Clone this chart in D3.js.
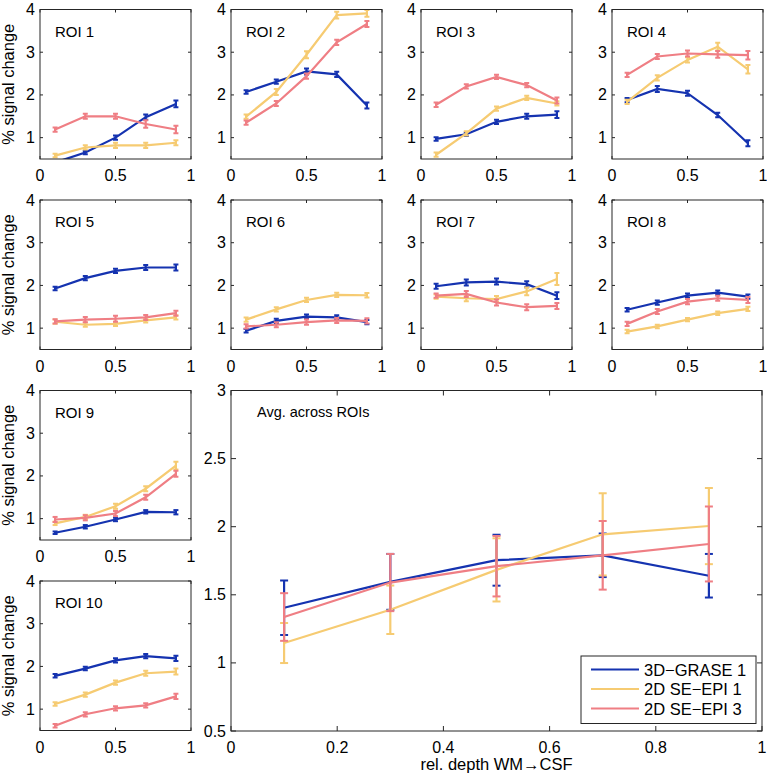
<!DOCTYPE html>
<html>
<head>
<meta charset="utf-8">
<script src="https://cdn.jsdelivr.net/npm/d3@7/dist/d3.min.js"></script>
<style>
  body { margin: 0; background: #fff; }
  svg text { font-family: "Liberation Sans", Arial, sans-serif; fill: #000; }
  .axisline { stroke: #262626; stroke-width: 1; fill: none; }
</style>
</head>
<body>
<svg id="chart" width="767" height="774"></svg>
<script>
// ---- data ----
const depths = [0.1, 0.3, 0.5, 0.7, 0.9];
const roiNames = ["ROI 1", "ROI 2", "ROI 3", "ROI 4", "ROI 5", "ROI 6", "ROI 7", "ROI 8", "ROI 9", "ROI 10"];
const seriesNames = ["3D\u2212GRASE 1", "2D SE\u2212EPI 1", "2D SE\u2212EPI 3"];

// per ROI means
const graseMeans = [
  [0.42, 0.65, 1.00, 1.48, 1.79],
  [2.07, 2.31, 2.55, 2.48, 1.75],
  [0.97, 1.08, 1.37, 1.50, 1.54],
  [1.88, 2.14, 2.04, 1.53, 0.87],
  [1.93, 2.17, 2.34, 2.42, 2.42],
  [0.94, 1.17, 1.27, 1.25, 1.14],
  [1.98, 2.07, 2.09, 2.03, 1.76],
  [1.43, 1.60, 1.76, 1.83, 1.74],
  [0.67, 0.81, 0.98, 1.16, 1.15],
  [1.78, 1.95, 2.14, 2.24, 2.19]
];
const epi1Means = [
  [0.58, 0.77, 0.82, 0.82, 0.88],
  [1.49, 2.07, 2.94, 3.87, 3.91],
  [0.60, 1.10, 1.68, 1.93, 1.80],
  [1.84, 2.40, 2.82, 3.13, 2.60],
  [1.15, 1.08, 1.10, 1.18, 1.25],
  [1.20, 1.44, 1.66, 1.78, 1.77],
  [1.74, 1.70, 1.68, 1.86, 2.15],
  [0.92, 1.04, 1.20, 1.35, 1.45],
  [0.89, 1.04, 1.29, 1.70, 2.24],
  [1.12, 1.34, 1.62, 1.84, 1.88]
];
const epi3Means = [
  [1.19, 1.50, 1.50, 1.32, 1.19],
  [1.35, 1.80, 2.44, 3.23, 3.66],
  [1.77, 2.20, 2.42, 2.23, 1.87],
  [2.47, 2.90, 2.97, 2.95, 2.93],
  [1.16, 1.20, 1.22, 1.25, 1.35],
  [1.04, 1.08, 1.14, 1.18, 1.17],
  [1.76, 1.80, 1.60, 1.49, 1.52],
  [1.10, 1.39, 1.62, 1.70, 1.66],
  [0.98, 1.02, 1.12, 1.50, 2.05],
  [0.61, 0.88, 1.02, 1.09, 1.30]
];

// per ROI errors (half length)
const graseErr = [
  [0.03, 0.04, 0.05, 0.06, 0.08],
  [0.04, 0.05, 0.07, 0.06, 0.07],
  [0.04, 0.04, 0.05, 0.06, 0.08],
  [0.05, 0.07, 0.06, 0.05, 0.07],
  [0.04, 0.05, 0.05, 0.06, 0.07],
  [0.04, 0.05, 0.05, 0.05, 0.05],
  [0.06, 0.07, 0.07, 0.07, 0.08],
  [0.04, 0.05, 0.05, 0.05, 0.05],
  [0.03, 0.04, 0.04, 0.04, 0.05],
  [0.04, 0.04, 0.05, 0.05, 0.06]
];
const epi1Err = [
  [0.04, 0.05, 0.06, 0.06, 0.06],
  [0.05, 0.07, 0.08, 0.08, 0.08],
  [0.05, 0.05, 0.05, 0.05, 0.05],
  [0.05, 0.06, 0.06, 0.09, 0.10],
  [0.05, 0.05, 0.05, 0.05, 0.05],
  [0.05, 0.05, 0.05, 0.05, 0.05],
  [0.05, 0.07, 0.07, 0.09, 0.14],
  [0.04, 0.04, 0.04, 0.04, 0.05],
  [0.04, 0.05, 0.06, 0.06, 0.09],
  [0.04, 0.05, 0.05, 0.06, 0.07]
];
const epi3Err = [
  [0.05, 0.06, 0.06, 0.09, 0.09],
  [0.05, 0.06, 0.06, 0.06, 0.07],
  [0.05, 0.05, 0.05, 0.05, 0.07],
  [0.05, 0.06, 0.07, 0.08, 0.10],
  [0.05, 0.06, 0.07, 0.06, 0.06],
  [0.05, 0.06, 0.06, 0.06, 0.06],
  [0.05, 0.07, 0.07, 0.07, 0.07],
  [0.05, 0.06, 0.06, 0.06, 0.07],
  [0.06, 0.06, 0.06, 0.06, 0.07],
  [0.04, 0.05, 0.05, 0.05, 0.06]
];

// average across ROIs
const avgGrase = [1.405, 1.595, 1.754, 1.790, 1.640];
const avgEpi1 = [1.146, 1.390, 1.683, 1.944, 2.005];
const avgEpi3 = [1.337, 1.590, 1.710, 1.790, 1.873];
const avgGraseErr = [0.200, 0.205, 0.187, 0.160, 0.160];
const avgEpi1Err = [0.147, 0.178, 0.232, 0.302, 0.280];
const avgEpi3Err = [0.175, 0.210, 0.222, 0.252, 0.275];

const smallYTicks = [1, 2, 3, 4];
const smallXTicks = [0, 0.5, 1];
const bigYTicks = [0.5, 1, 1.5, 2, 2.5, 3];
const bigXTicks = [0, 0.2, 0.4, 0.6, 0.8, 1];

const colors = ["#1533b0", "#f6cb72", "#ef7e84"];

// ---- layout ----
const svg = d3.select("#chart");
const colX = [40, 231, 421, 612];
const rowY = [9.5, 200, 390.5, 581];
const panelW = 151, panelH = 149.5;

// ROI panels: first two rows full, then ROI 9 and 10 on left column
const panelPos = [
  [0, 0], [1, 0], [2, 0], [3, 0],
  [0, 1], [1, 1], [2, 1], [3, 1],
  [0, 2], [0, 3]
];

const fmt = d => d3.format("~g")(d);

function drawAxes(g, x, y, xTicks, yTicks, tickLen, fontSize, xLabelOffset) {
  const w = x.range()[1], h = y.range()[0];
  // ticks inward on all four sides
  xTicks.forEach(t => {
    g.append("line").attr("class", "axisline")
      .attr("x1", x(t)).attr("x2", x(t)).attr("y1", h).attr("y2", h - tickLen);
    g.append("line").attr("class", "axisline")
      .attr("x1", x(t)).attr("x2", x(t)).attr("y1", 0).attr("y2", tickLen);
    g.append("text")
      .attr("x", x(t)).attr("y", h + xLabelOffset)
      .attr("text-anchor", "middle")
      .attr("font-size", fontSize)
      .text(fmt(t));
  });
  yTicks.forEach(t => {
    g.append("line").attr("class", "axisline")
      .attr("x1", 0).attr("x2", tickLen).attr("y1", y(t)).attr("y2", y(t));
    g.append("line").attr("class", "axisline")
      .attr("x1", w).attr("x2", w - tickLen).attr("y1", y(t)).attr("y2", y(t));
    g.append("text")
      .attr("x", -5).attr("y", y(t))
      .attr("text-anchor", "end")
      .attr("dominant-baseline", "central")
      .attr("font-size", fontSize)
      .text(fmt(t));
  });
  g.append("rect").attr("class", "axisline")
    .attr("x", 0).attr("y", 0).attr("width", w).attr("height", h);
}

function drawSeries(g, x, y, means, errs, color, capW, clipId) {
  const line = d3.line().x((d, i) => x(depths[i])).y(d => y(d));
  const cg = g.append("g").attr("clip-path", `url(#${clipId})`);
  cg.append("path")
    .attr("d", line(means))
    .attr("fill", "none")
    .attr("stroke", color)
    .attr("stroke-width", 2.2);
  means.forEach((m, i) => {
    const cx = x(depths[i]);
    const top = y(m + errs[i]), bot = y(m - errs[i]);
    cg.append("line").attr("x1", cx).attr("x2", cx).attr("y1", top).attr("y2", bot)
      .attr("stroke", color).attr("stroke-width", 2.2);
    [top, bot].forEach(yy => {
      cg.append("line").attr("x1", cx - capW).attr("x2", cx + capW).attr("y1", yy).attr("y2", yy)
        .attr("stroke", color).attr("stroke-width", 2);
    });
  });
}

const defs = svg.append("defs");

// ---- small ROI panels ----
roiNames.forEach((name, k) => {
  const [c, r] = panelPos[k];
  const g = svg.append("g").attr("transform", `translate(${colX[c]},${rowY[r]})`);
  const x = d3.scaleLinear().domain([0, 1]).range([0, panelW]);
  const y = d3.scaleLinear().domain([0.5, 4]).range([panelH, 0]);

  const clipId = "clip" + k;
  defs.append("clipPath").attr("id", clipId)
    .append("rect").attr("x", 0).attr("y", 0).attr("width", panelW).attr("height", panelH);

  drawSeries(g, x, y, graseMeans[k], graseErr[k], colors[0], 2.5, clipId);
  drawSeries(g, x, y, epi1Means[k], epi1Err[k], colors[1], 2.5, clipId);
  drawSeries(g, x, y, epi3Means[k], epi3Err[k], colors[2], 2.5, clipId);

  drawAxes(g, x, y, smallXTicks, smallYTicks, 3, 16, 22);

  g.append("text")
    .attr("x", 15).attr("y", 27)
    .attr("font-size", 15)
    .text(name);

  if (c === 0) {
    g.append("text")
      .attr("transform", `translate(${-26},${panelH / 2}) rotate(-90)`)
      .attr("text-anchor", "middle")
      .attr("font-size", 16.5)
      .text("% signal change");
  }
});

// ---- big average panel ----
const bigX0 = 231, bigY0 = 390.5, bigW = 531, bigH = 340.5;
const bg = svg.append("g").attr("transform", `translate(${bigX0},${bigY0})`);
const bx = d3.scaleLinear().domain([0, 1]).range([0, bigW]);
const by = d3.scaleLinear().domain([0.5, 3]).range([bigH, 0]);

defs.append("clipPath").attr("id", "clipBig")
  .append("rect").attr("x", 0).attr("y", 0).attr("width", bigW).attr("height", bigH);

drawSeries(bg, bx, by, avgGrase, avgGraseErr, colors[0], 4, "clipBig");
drawSeries(bg, bx, by, avgEpi1, avgEpi1Err, colors[1], 4, "clipBig");
drawSeries(bg, bx, by, avgEpi3, avgEpi3Err, colors[2], 4, "clipBig");

drawAxes(bg, bx, by, bigXTicks, bigYTicks, 5, 16, 22);

bg.append("text")
  .attr("x", 26).attr("y", 26)
  .attr("font-size", 14.5)
  .text("Avg. across ROIs");

bg.append("text")
  .attr("x", bigW / 2).attr("y", bigH + 39)
  .attr("text-anchor", "middle")
  .attr("font-size", 16.5)
  .text("rel. depth WM\u2192CSF");

// legend
const lg = svg.append("g").attr("transform", "translate(581,656)");
lg.append("rect")
  .attr("width", 175).attr("height", 67.5)
  .attr("fill", "#fff").attr("stroke", "#262626").attr("stroke-width", 1);
seriesNames.forEach((s, i) => {
  const yy = 13.5 + i * 19.5;
  lg.append("line")
    .attr("x1", 10).attr("x2", 58).attr("y1", yy).attr("y2", yy)
    .attr("stroke", colors[i]).attr("stroke-width", 2.2);
  lg.append("text")
    .attr("x", 63).attr("y", yy)
    .attr("dominant-baseline", "central")
    .attr("font-size", 16.5)
    .text(s);
});
</script>
</body>
</html>
